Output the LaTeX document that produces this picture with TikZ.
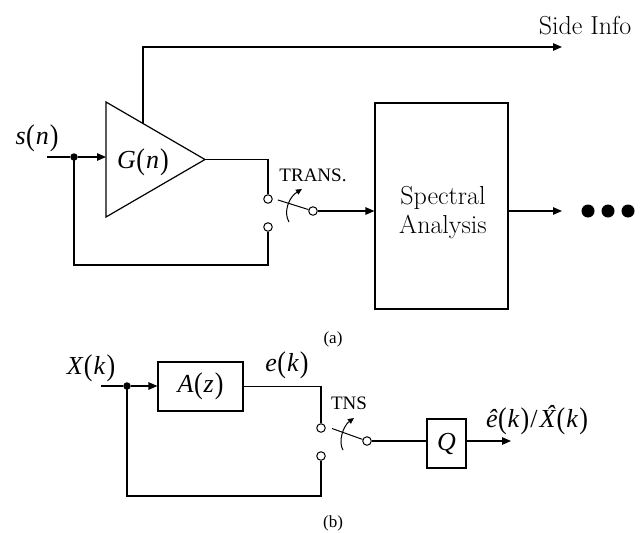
\documentclass[tikz,border=0pt]{standalone}
\usepackage{fontspec}
\usepackage{graphicx}
\usetikzlibrary{arrows.meta}
\newfontfamily\tmfont{Liberation Serif}
\newcommand\mathlab[1]{{\tmfont\fontsize{26}{30}\selectfont #1}}
\newcommand\lpar{{\upshape\raisebox{-0.03em}{\scalebox{1}[1.15]{(}}}}
\newcommand\rpar{{\upshape\raisebox{-0.03em}{\scalebox{1}[1.15]{)}}}}
\newcommand\fnc[2]{\textit{#1}\kern0.5pt\lpar\kern1pt\textit{#2}\kern1pt\rpar}
\newcommand\hatX{\leavevmode\rlap{\kern0.24em\raisebox{0.19em}{\textit{ˆ}}}\textit{X}}
\begin{document}
\begin{tikzpicture}[x=1pt,y=-1pt,line width=1.2pt,
  arr/.style={-{Triangle[length=9pt,width=7.5pt]}},
  arrsm/.style={line width=1pt,-{Triangle[length=6pt,width=5.5pt]}},
  blk/.style={draw,line width=1.2pt,inner sep=0pt},
  contact/.style={circle,draw,fill=white,line width=1pt,minimum size=8.5pt,inner sep=0pt},
  junc/.style={circle,fill=black,minimum size=7.5pt,inner sep=0pt},
  bigdot/.style={circle,fill=black,minimum size=13pt,inner sep=0pt},
  ttext/.style={font=\tmfont\fontsize{19}{22}\selectfont,inner sep=0pt},
  captext/.style={font=\tmfont\fontsize{17}{20}\selectfont,inner sep=0pt},
  lmtext/.style={font=\fontsize{26}{29}\selectfont,inner sep=0pt,align=center},
  mlab/.style={inner sep=0pt}]
\useasboundingbox (0,0) rectangle (643,533);

% ---------------- (a) ----------------
\node[lmtext] (side) at (585,26) {Side Info};
\coordinate (tA) at (106,102);
\coordinate (tB) at (106,217);
\coordinate (tip) at (205,159.5);
\draw (tA) -- (tip) -- (tB) -- cycle;
\node[mlab] (G) at (143,162) {\mathlab{\fnc{G}{n}}};
\coordinate (sideStart) at (143,124.3);
\coordinate (sideEnd) at (562,47);
\draw[arr] (sideStart) |- (sideEnd);

\node[mlab] (sn) at (37,138) {\mathlab{\fnc{s}{n}}};
\coordinate (sin) at (47,157);
\node[junc] (j1) at (74,157) {};
\coordinate (tin) at (106,157);
\draw (sin) -- (j1);
\draw[arr] (j1) -- (tin);

\node[contact] (c1) at (268,199) {};
\node[contact] (c2) at (268,227) {};
\node[contact] (p1) at (313,211) {};
\draw (tip) -| (c1.north);
\coordinate (fb1) at (268,265);
\draw (j1.center) |- (fb1) -- (c2.south);
\coordinate (bl1) at (278,200);
\draw[line width=1pt] (bl1) -- (p1);
\coordinate (a1s) at (289,222);
\coordinate (a1e) at (302,189);
\draw[arrsm] (a1s) .. controls (283,212) and (289,197) .. (a1e);
\node[ttext] (trans) at (313,175) {TRANS.};

\node[blk,minimum width=133pt,minimum height=206pt] (spec) at (441.5,206) {};
\node[lmtext] (spectxt) at (443,213) {Spectral\\Analysis};
\draw[arr] (p1) -- (spec.west |- p1);
\coordinate (dotsarr) at (562,211);
\draw[arr] (spec.east |- p1) -- (dotsarr);
\node[bigdot] (d1) at (588,211) {};
\node[bigdot] (d2) at (608,211) {};
\node[bigdot] (d3) at (628,211) {};
\node[captext] (la) at (333,339) {(a)};

% ---------------- (b) ----------------
\node[mlab] (Xk) at (91,368) {\mathlab{\fnc{X}{k}}};
\coordinate (xin) at (101,386);
\node[junc] (j2) at (127,386) {};
\node[blk,minimum width=85pt,minimum height=49pt] (Az) at (200.5,386.5) {\mathlab{\fnc{A}{z}}};
\draw (xin) -- (j2);
\draw[arr] (j2) -- (Az.west |- j2);
\node[mlab] (ek) at (287,365) {\mathlab{\fnc{e}{k}}};

\node[contact] (c3) at (321,428) {};
\node[contact] (c4) at (321,456) {};
\node[contact] (p2) at (367,441) {};
\draw (Az.east) -| (c3.north);
\coordinate (fb2) at (321,496);
\draw (j2.center) |- (fb2) -- (c4.south);
\coordinate (bl2) at (332,428.5);
\draw[line width=1pt] (bl2) -- (p2);
\coordinate (a2s) at (343,450);
\coordinate (a2e) at (354,418);
\draw[arrsm] (a2s) .. controls (338,442) and (343,426) .. (a2e);
\node[ttext] (tns) at (349,403) {TNS};

\node[blk,minimum width=39pt,minimum height=49pt] (Q) at (446.5,443.5) {\mathlab{\textit{Q}}};
\draw (p2) -- (Q.west |- p2);
\coordinate (qout) at (511,441);
\draw[arr] (Q.east |- p2) -- (qout);
\node[mlab] (outlab) at (537,420) {\mathlab{\textit{ê}\kern0.5pt\lpar\kern1pt\textit{k}\kern1pt\rpar\kern1pt/\kern2pt\hatX\kern0.5pt\lpar\kern1pt\textit{k}\kern1pt\rpar}};
\node[captext] (lb) at (333,523) {(b)};
\end{tikzpicture}
\end{document}
